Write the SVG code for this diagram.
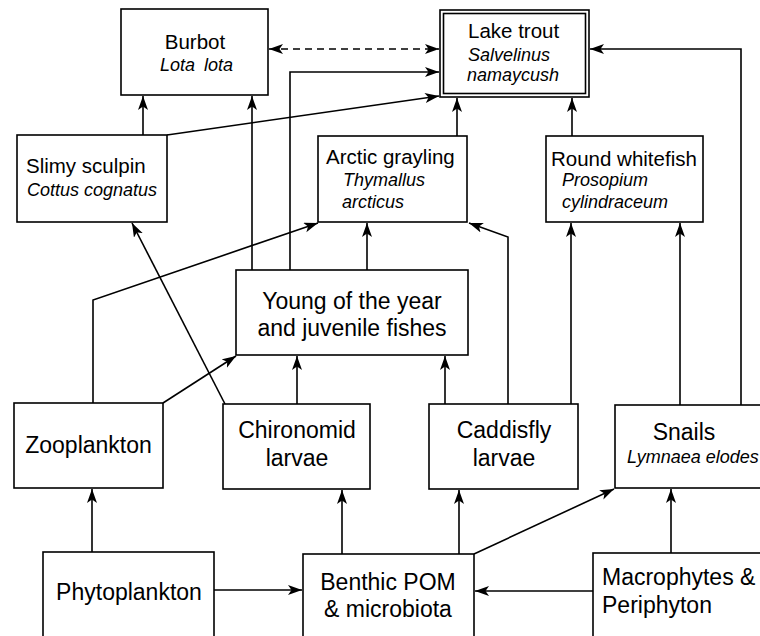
<svg xmlns="http://www.w3.org/2000/svg" width="760" height="636" viewBox="0 0 760 636">
<style>
.box{fill:#fff;stroke:#000;stroke-width:1.6}
.t{font-family:"Liberation Sans",Arial,sans-serif;fill:#000}
.n{font-size:20.5px}
.b{font-size:23px}
.i{font-size:18px;font-style:italic}
.c{text-anchor:middle}
.ln{fill:none;stroke:#000;stroke-width:1.6}
.d{stroke-dasharray:7 5}
</style>
<defs>
<marker id="ah" markerUnits="userSpaceOnUse" markerWidth="15" markerHeight="11" refX="14" refY="5" orient="auto">
<path d="M0,0 L14,5 L0,10 L3.5,5 z" fill="#000"/>
</marker>
<marker id="ahs" markerUnits="userSpaceOnUse" markerWidth="15" markerHeight="11" refX="14" refY="5" orient="auto-start-reverse">
<path d="M0,0 L14,5 L0,10 L3.5,5 z" fill="#000"/>
</marker>
</defs>
<rect width="760" height="636" fill="#fff"/>
<g id="connectors">
<path class="ln" d="M143,135 V96" marker-end="url(#ah)"/>
<path class="ln" d="M252,270 V96" marker-end="url(#ah)"/>
<path class="ln" d="M290,270 V72 H439" marker-end="url(#ah)"/>
<path class="ln" d="M167,135 L439,96" marker-end="url(#ah)"/>
<path class="ln d" d="M269,49 H439" marker-start="url(#ahs)" marker-end="url(#ah)"/>
<path class="ln" d="M457,136 V98" marker-end="url(#ah)"/>
<path class="ln" d="M572,136 V98" marker-end="url(#ah)"/>
<path class="ln" d="M741,405 V49 H590" marker-end="url(#ah)"/>
<path class="ln" d="M367,270 V223" marker-end="url(#ah)"/>
<path class="ln" d="M93,403 V300 L318,223" marker-end="url(#ah)"/>
<path class="ln" d="M225,404 L132,223" marker-end="url(#ah)"/>
<path class="ln" d="M508,404 V237 L469,223" marker-end="url(#ah)"/>
<path class="ln" d="M571,404 V223" marker-end="url(#ah)"/>
<path class="ln" d="M680,405 V223" marker-end="url(#ah)"/>
<path class="ln" d="M163,403 L236,356" marker-end="url(#ah)"/>
<path class="ln" d="M297,404 V356" marker-end="url(#ah)"/>
<path class="ln" d="M445,404 V356" marker-end="url(#ah)"/>
<path class="ln" d="M92,552 V489" marker-end="url(#ah)"/>
<path class="ln" d="M214,590 H302" marker-end="url(#ah)"/>
<path class="ln" d="M342,554 V490" marker-end="url(#ah)"/>
<path class="ln" d="M459,554 V490" marker-end="url(#ah)"/>
<path class="ln" d="M474,554 L614,489" marker-end="url(#ah)"/>
<path class="ln" d="M671,553 V489" marker-end="url(#ah)"/>
<path class="ln" d="M593,591 H475" marker-end="url(#ah)"/>
</g>
<g id="burbot">
<rect class="box" x="121" y="9" width="147" height="86"/>
<text class="t n c" x="195" y="49">Burbot</text>
<text class="t i" x="160" y="71">Lota <tspan x="204">lota</tspan></text>
</g>
<g id="laketrout">
<rect class="box" x="440" y="10" width="149" height="87"/>
<rect class="box" x="443.5" y="13.5" width="142" height="80"/>
<text class="t n" x="468" y="38">Lake trout</text>
<text class="t i" x="468" y="61">Salvelinus</text>
<text class="t i" x="467" y="81">namaycush</text>
</g>
<g id="sculpin">
<rect class="box" x="17" y="135" width="150" height="87"/>
<text class="t n" x="26" y="173">Slimy sculpin</text>
<text class="t i" x="27" y="196">Cottus cognatus</text>
</g>
<g id="grayling">
<rect class="box" x="318" y="136" width="149" height="86"/>
<text class="t n" x="326" y="164">Arctic grayling</text>
<text class="t i" x="343" y="186">Thymallus</text>
<text class="t i" x="342" y="208">arcticus</text>
</g>
<g id="whitefish">
<rect class="box" x="546" y="136" width="157" height="86"/>
<text class="t n" x="551" y="166">Round whitefish</text>
<text class="t i" x="562" y="186">Prosopium</text>
<text class="t i" x="562" y="208">cylindraceum</text>
</g>
<g id="young">
<rect class="box" x="236" y="270" width="232" height="85"/>
<text class="t b c" x="352" y="309">Young of the year</text>
<text class="t b c" x="352" y="336">and juvenile fishes</text>
</g>
<g id="zooplankton">
<rect class="box" x="14" y="403" width="149" height="85"/>
<text class="t b c" x="88.5" y="453">Zooplankton</text>
</g>
<g id="chironomid">
<rect class="box" x="223" y="404" width="147" height="85"/>
<text class="t b c" x="297" y="438">Chironomid</text>
<text class="t b c" x="297" y="466">larvae</text>
</g>
<g id="caddisfly">
<rect class="box" x="429" y="404" width="149" height="85"/>
<text class="t b c" x="504" y="438">Caddisfly</text>
<text class="t b c" x="504" y="466">larvae</text>
</g>
<g id="snails">
<rect class="box" x="615" y="405" width="160" height="83"/>
<text class="t b c" x="684" y="440">Snails</text>
<text class="t i" x="627" y="463">Lymnaea elodes</text>
</g>
<g id="phytoplankton">
<rect class="box" x="43" y="552" width="171" height="100"/>
<text class="t b c" x="129" y="600">Phytoplankton</text>
</g>
<g id="benthic">
<rect class="box" x="303" y="554" width="171" height="100"/>
<text class="t b c" x="388" y="590">Benthic POM</text>
<text class="t b c" x="388" y="617">&amp; microbiota</text>
</g>
<g id="macrophytes">
<rect class="box" x="593" y="553" width="180" height="100"/>
<text class="t b" x="602" y="585">Macrophytes &amp;</text>
<text class="t b" x="602" y="613">Periphyton</text>
</g>
</svg>
